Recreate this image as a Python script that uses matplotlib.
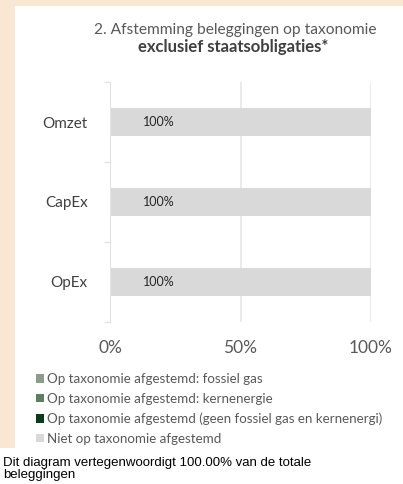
import matplotlib.pyplot as plt
from matplotlib.patches import Patch, Rectangle

categories = ["Omzet", "CapEx", "OpEx"]
fossiel_gas = [0, 0, 0]
kernenergie = [0, 0, 0]
overig_afgestemd = [0, 0, 0]
niet_afgestemd = [100, 100, 100]

series_labels = [
    "Op taxonomie afgestemd: fossiel gas",
    "Op taxonomie afgestemd: kernenergie",
    "Op taxonomie afgestemd (geen fossiel gas en kernenergi)",
    "Niet op taxonomie afgestemd",
]
series_colors = ["#8c9c8c", "#5e7d62", "#0b3a1c", "#d9d9d9"]
xticks = [0, 50, 100]
xtick_labels = ["0%", "50%", "100%"]

plt.rcParams["font.family"] = ["Lato", "DejaVu Sans"]

W, H = 403, 484
fig = plt.figure(figsize=(W / 100, H / 100), dpi=100)
fig.patch.set_facecolor("white")

# peach frame around the chart image, white panel inside
fig.add_artist(Rectangle((0, 1 - 448 / H), 1, 448 / H, transform=fig.transFigure,
                         facecolor="#f9e7d3", edgecolor="none", zorder=-2))
fig.add_artist(Rectangle((15 / W, 1 - 448 / H), 1 - 15 / W, (448 - 6) / H,
                         transform=fig.transFigure, facecolor="white",
                         edgecolor="none", zorder=-1))

fig.text(235 / W, 1 - 30 / H, "2. Afstemming beleggingen op taxonomie",
         ha="center", va="center", fontsize=11.2, color="#595959")
fig.text(233 / W, 1 - 47 / H, "exclusief staatsobligaties*",
         ha="center", va="center", fontsize=12, fontweight="bold", color="#404040")

ax = fig.add_axes([110 / W, 1 - 322 / H, 261 / W, 240 / H])
ax.set_facecolor("none")

ypos = [2, 1, 0]
series = [fossiel_gas, kernenergie, overig_afgestemd, niet_afgestemd]
left = [0, 0, 0]
for vals, col in zip(series, series_colors):
    ax.barh(ypos, vals, left=left, height=0.34, color=col, zorder=2)
    for y, l, v in zip(ypos, left, vals):
        if v > 0:
            ax.text(l + 12.5, y, f"{v}%", ha="left", va="center",
                    fontsize=9, color="#262626", zorder=3)
    left = [a + b for a, b in zip(left, vals)]

ax.set_xlim(0, 100)
ax.set_ylim(-0.5, 2.5)
ax.set_xticks(xticks)
ax.set_xticklabels(xtick_labels, fontsize=12.5, color="#595959")
ax.tick_params(axis="x", length=0, pad=13)
ax.set_yticks(ypos)
ax.set_yticklabels(categories, fontsize=11, color="#404040")
ax.tick_params(axis="y", which="major", length=0, pad=16)
ax.set_yticks([-0.5, 0.5, 1.5, 2.5], minor=True)
ax.tick_params(axis="y", which="minor", length=4, color="#e3e3e3", width=1)

for s in ["top", "right", "bottom"]:
    ax.spines[s].set_visible(False)
ax.spines["left"].set_color("#e3e3e3")
ax.grid(axis="x", color="#e6e6e6", linewidth=1.2, zorder=0)
ax.set_axisbelow(True)

handles = [Patch(facecolor=c, edgecolor="none") for c in series_colors]
fig.legend(handles, series_labels, loc="upper left",
           bbox_to_anchor=(36 / W, 1 - 373 / H), frameon=False,
           fontsize=9.6, labelcolor="#595959", handlelength=0.6, handleheight=0.6,
           handletextpad=0.25, labelspacing=0.58, borderpad=0, borderaxespad=0)

fig.text(3 / W, 1 - 469 / H, "Dit diagram vertegenwoordigt 100.00% van de totale\nbeleggingen",
         ha="left", va="center", fontsize=9.5, family="Liberation Sans",
         color="black", linespacing=0.95)

fig.savefig("out.png", dpi=100, facecolor=fig.get_facecolor())
